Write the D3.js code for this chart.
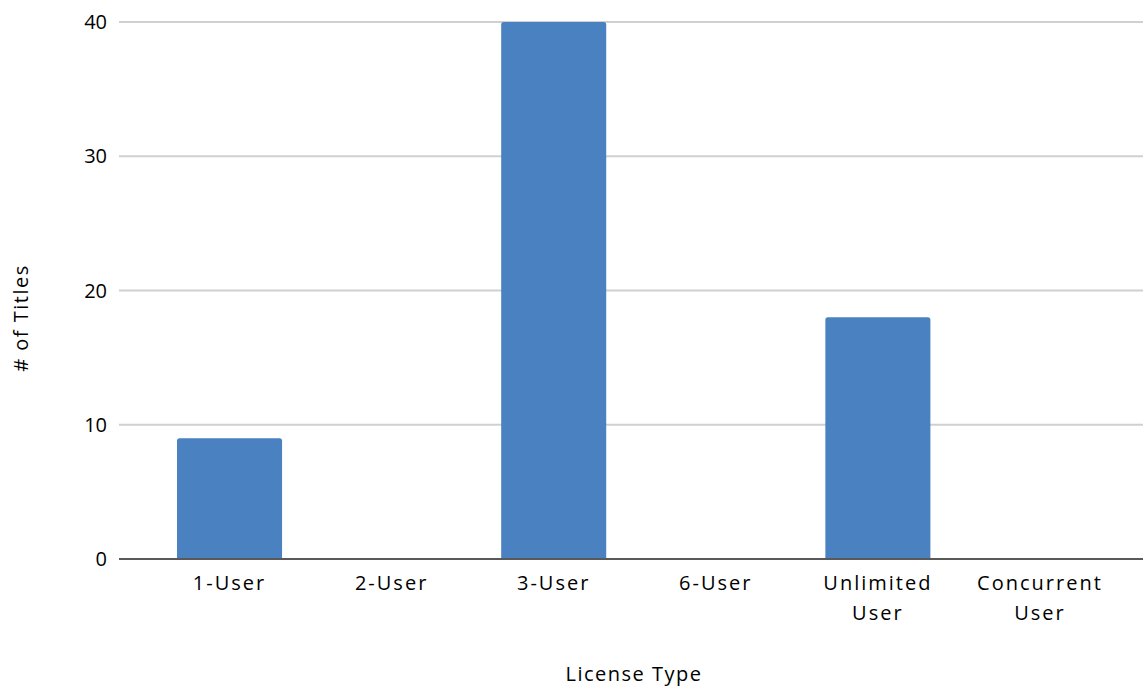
<!DOCTYPE html>
<html><head><meta charset="utf-8">
<script src="https://cdn.jsdelivr.net/npm/d3@7"></script>
<style>body{margin:0;background:#fff;} text{font-family:"Open Sans","Liberation Sans",sans-serif;fill:#000;}</style>
</head><body>
<svg id="c" width="1143" height="690"></svg>
<script>
const categories = [["1-User"],["2-User"],["3-User"],["6-User"],["Unlimited","User"],["Concurrent","User"]];
const values = [9, 0, 40, 0, 18, 0];
const yTicks = [0, 10, 20, 30, 40];
const xTitle = "License Type";
const yTitle = "# of Titles";

const svg = d3.select("#c");
const keys = categories.map(c => c.join(" "));
const x = d3.scaleBand().domain(keys).range([148.5, 1121]).paddingInner(0.352).paddingOuter(0.176);
const y = d3.scaleLinear().domain([0, 40]).range([559, 22]);

// gridlines
svg.append("g").selectAll("line").data(yTicks.filter(d => d > 0)).join("line")
  .attr("x1", 119).attr("x2", 1143)
  .attr("y1", d => y(d)).attr("y2", d => y(d))
  .attr("stroke", "#d0d0d0").attr("stroke-width", 2);

// y tick labels
svg.append("g").selectAll("text").data(yTicks).join("text")
  .attr("x", 107).attr("y", d => y(d)).attr("dy", "0.36em")
  .attr("text-anchor", "end").attr("font-size", 20).text(d => d);

// bars
const r = 2.5;
svg.append("g").selectAll("path").data(values.map((v, i) => ({k: keys[i], v}))).join("path")
  .attr("fill", "#4a81c0")
  .attr("d", d => {
    const x0 = x(d.k), w = x.bandwidth(), y0 = y(d.v), yb = y(0);
    if (d.v <= 0) return "";
    return `M${x0},${yb}V${y0 + r}Q${x0},${y0} ${x0 + r},${y0}H${x0 + w - r}Q${x0 + w},${y0} ${x0 + w},${y0 + r}V${yb}Z`;
  });

// baseline
svg.append("line").attr("x1", 119).attr("x2", 1143).attr("y1", y(0)).attr("y2", y(0))
  .attr("stroke", "#595959").attr("stroke-width", 2);

// x labels
const xl = svg.append("g").selectAll("text").data(categories).join("text")
  .attr("text-anchor", "middle").attr("font-size", 20).attr("letter-spacing", "2px")
  .attr("x", (d, i) => x(keys[i]) + x.bandwidth() / 2).attr("y", 590);
xl.selectAll("tspan").data(d => d).join("tspan")
  .attr("x", function() { return d3.select(this.parentNode).attr("x"); })
  .attr("dy", (d, i) => i === 0 ? 0 : 30).text(d => d);

// axis titles
svg.append("text").attr("x", 634).attr("y", 681).attr("text-anchor", "middle")
  .attr("font-size", 20).attr("letter-spacing", "1.5px").text(xTitle);
svg.append("text").attr("transform", "translate(28,318) rotate(-90)").attr("text-anchor", "middle")
  .attr("font-size", 20).attr("letter-spacing", "1.5px").text(yTitle);
</script>
</body></html>
